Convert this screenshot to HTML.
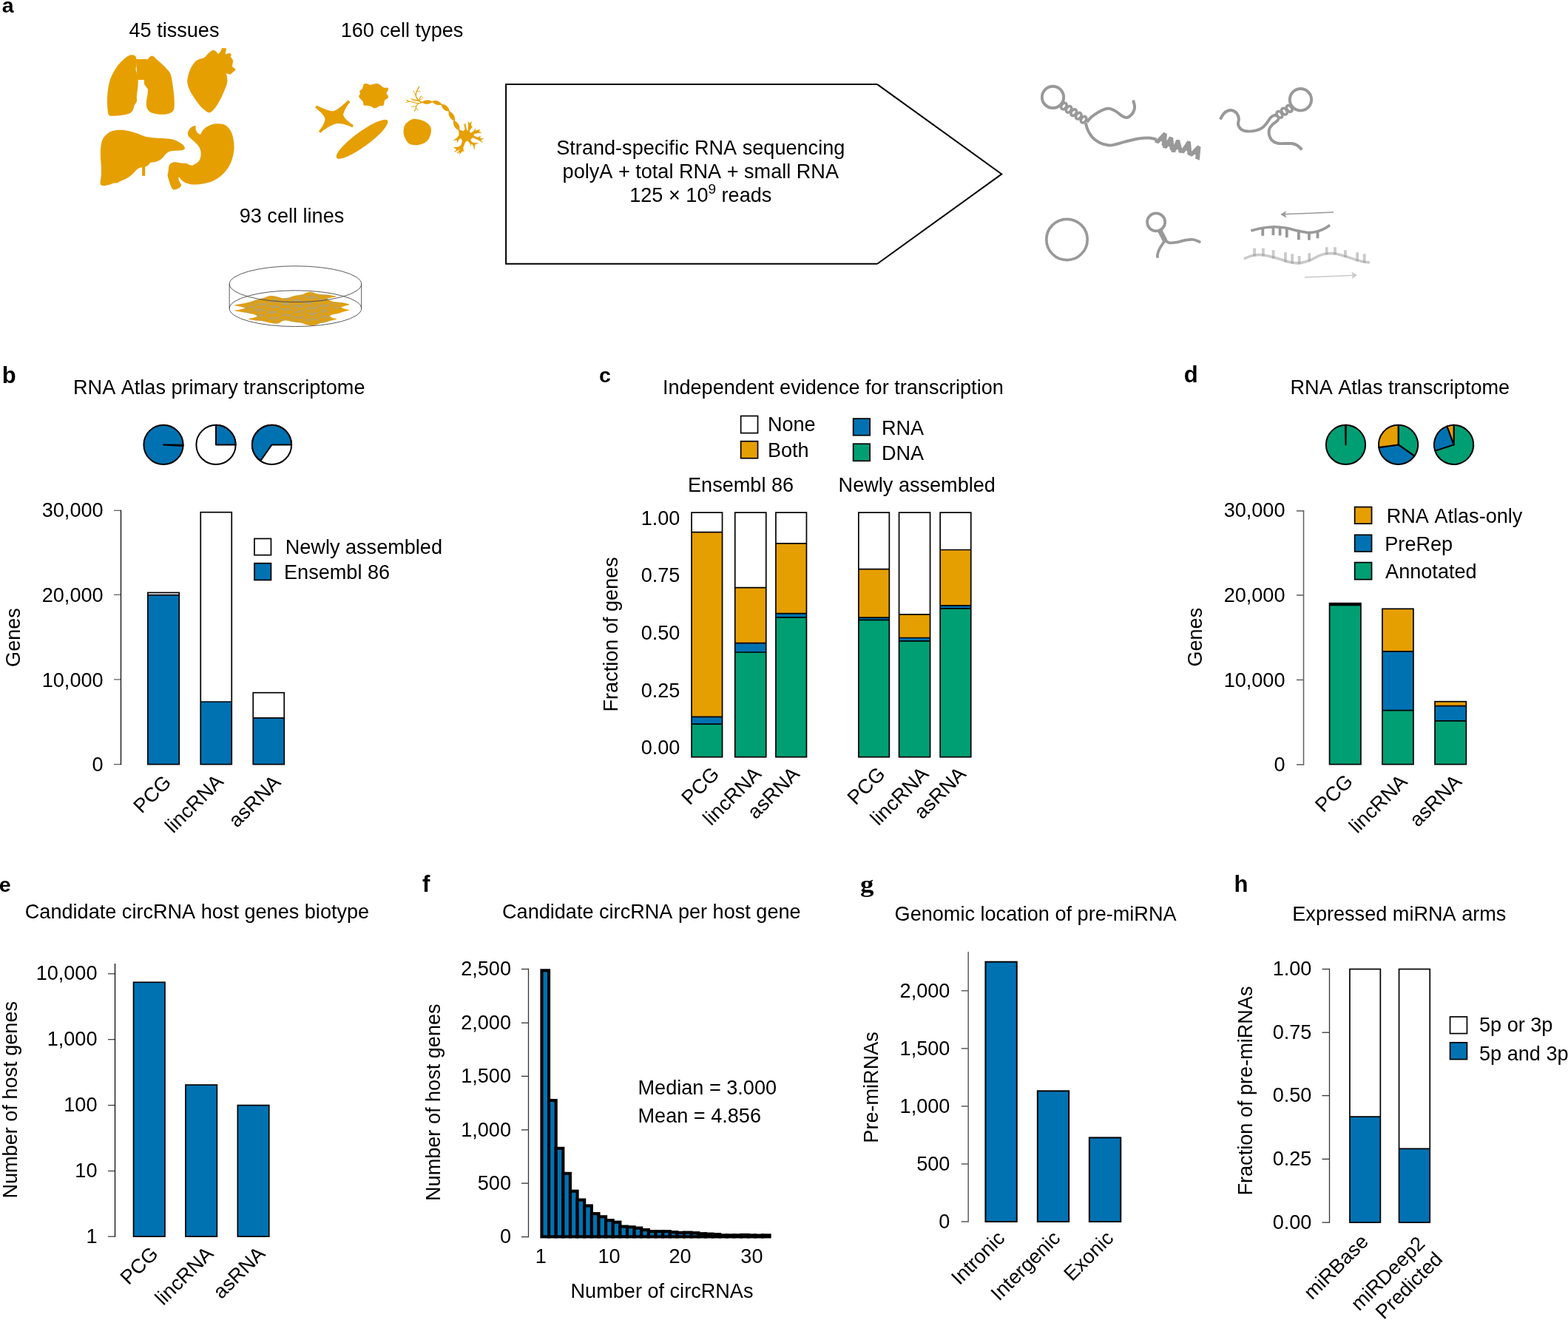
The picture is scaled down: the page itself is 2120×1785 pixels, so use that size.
<!DOCTYPE html>
<html lang="en">
<head>
<meta charset="utf-8">
<title>RNA Atlas overview figure</title>
<style>
html,body{margin:0;padding:0;background:#fff;}
body{width:2120px;height:1785px;overflow:hidden;}
svg{display:block;}
svg text{font-family:"Liberation Sans",sans-serif;font-size:27.1px;fill:#000;font-kerning:none;}
</style>
</head>
<body>
<svg width="2120" height="1785" viewBox="0 0 2120 1785">
<rect width="2120" height="1785" fill="#fff"/>
<g transform="translate(120,50) scale(0.124719)">
<path d="M470.0,195.0 C481.7,197.5 502.0,197.5 510.0,215.0 C518.0,232.5 518.0,277.5 518.0,300.0 C518.0,322.5 508.8,333.3 510.0,350.0 C511.2,366.7 520.8,380.0 525.0,400.0 C529.2,420.0 534.2,443.3 535.0,470.0 C535.8,496.7 532.5,531.7 530.0,560.0 C527.5,588.3 521.7,616.7 520.0,640.0 C518.3,663.3 524.2,683.3 520.0,700.0 C515.8,716.7 501.7,725.0 495.0,740.0 C488.3,755.0 489.2,775.0 480.0,790.0 C470.8,805.0 461.7,820.0 440.0,830.0 C418.3,840.0 379.2,845.7 350.0,850.0 C320.8,854.3 285.3,855.7 265.0,856.0 C244.7,856.3 237.2,857.2 228.0,852.0 C218.8,846.8 214.7,850.3 210.0,825.0 C205.3,799.7 200.0,744.2 200.0,700.0 C200.0,655.8 203.3,603.3 210.0,560.0 C216.7,516.7 225.0,478.3 240.0,440.0 C255.0,401.7 276.7,363.3 300.0,330.0 C323.3,296.7 356.7,261.7 380.0,240.0 C403.3,218.3 425.0,207.5 440.0,200.0 C455.0,192.5 458.3,192.5 470.0,195.0 Z" fill="#E69F00"/>
<path d="M512.0,240.0 L632.0,240.0 L628.0,300.0 L612.0,465.0 L528.0,465.0 Z" fill="#E69F00"/>
<path d="M688.0,205.0 C679.7,204.7 670.0,210.2 662.0,216.0 C654.0,221.8 647.0,230.2 640.0,240.0 C633.0,249.8 625.3,248.3 620.0,275.0 C614.7,301.7 611.3,362.5 608.0,400.0 C604.7,437.5 597.2,475.8 600.0,500.0 C602.8,524.2 618.3,534.2 625.0,545.0 C631.7,555.8 637.8,552.5 640.0,565.0 C642.2,577.5 640.5,597.5 638.0,620.0 C635.5,642.5 626.7,676.7 625.0,700.0 C623.3,723.3 622.2,741.7 628.0,760.0 C633.8,778.3 644.7,798.0 660.0,810.0 C675.3,822.0 696.7,827.0 720.0,832.0 C743.3,837.0 775.0,840.3 800.0,840.0 C825.0,839.7 850.8,836.7 870.0,830.0 C889.2,823.3 905.3,813.3 915.0,800.0 C924.7,786.7 926.3,776.7 928.0,750.0 C929.7,723.3 928.0,678.3 925.0,640.0 C922.0,601.7 915.8,558.3 910.0,520.0 C904.2,481.7 900.0,438.3 890.0,410.0 C880.0,381.7 866.7,370.0 850.0,350.0 C833.3,330.0 808.3,307.2 790.0,290.0 C771.7,272.8 753.0,259.0 740.0,247.0 C727.0,235.0 720.7,225.0 712.0,218.0 C703.3,211.0 696.3,205.3 688.0,205.0 Z" fill="#E69F00"/>
<path d="M1250.0,225.0 C1230.0,236.7 1193.3,237.5 1170.0,255.0 C1146.7,272.5 1125.8,300.8 1110.0,330.0 C1094.2,359.2 1081.7,401.7 1075.0,430.0 C1068.3,458.3 1066.7,475.0 1070.0,500.0 C1073.3,525.0 1081.7,551.7 1095.0,580.0 C1108.3,608.3 1130.8,641.7 1150.0,670.0 C1169.2,698.3 1190.8,728.3 1210.0,750.0 C1229.2,771.7 1250.0,788.3 1265.0,800.0 C1280.0,811.7 1289.2,818.3 1300.0,820.0 C1310.8,821.7 1316.7,820.8 1330.0,810.0 C1343.3,799.2 1363.3,778.3 1380.0,755.0 C1396.7,731.7 1414.2,700.8 1430.0,670.0 C1445.8,639.2 1463.3,598.3 1475.0,570.0 C1486.7,541.7 1495.8,521.7 1500.0,500.0 C1504.2,478.3 1502.0,457.5 1500.0,440.0 C1498.0,422.5 1496.3,418.3 1488.0,395.0 C1479.7,371.7 1464.7,335.0 1450.0,300.0 C1435.3,265.0 1413.3,210.0 1400.0,185.0 C1386.7,160.0 1380.0,156.7 1370.0,150.0 C1360.0,143.3 1353.3,139.2 1340.0,145.0 C1326.7,150.8 1305.0,171.7 1290.0,185.0 C1275.0,198.3 1270.0,213.3 1250.0,225.0 Z" fill="#E69F00"/>
<path d="M1400.0,185.0 L1425.0,165.0 L1445.0,120.0 L1492.0,122.0 L1480.0,187.0 L1530.0,175.0 L1548.0,195.0 L1535.0,210.0 L1565.0,255.0 L1555.0,320.0 L1595.0,352.0 L1535.0,407.0 L1488.0,395.0 L1420.0,330.0 Z" fill="#E69F00"/>
<path d="M340.0,1008.0 C368.3,1008.0 400.0,1011.8 430.0,1018.0 C460.0,1024.2 490.0,1035.0 520.0,1045.0 C550.0,1055.0 580.0,1070.2 610.0,1078.0 C640.0,1085.8 668.3,1088.7 700.0,1092.0 C731.7,1095.3 766.7,1095.3 800.0,1098.0 C833.3,1100.7 870.0,1101.0 900.0,1108.0 C930.0,1115.0 958.3,1128.0 980.0,1140.0 C1001.7,1152.0 1020.0,1168.3 1030.0,1180.0 C1040.0,1191.7 1043.3,1202.0 1040.0,1210.0 C1036.7,1218.0 1026.7,1224.3 1010.0,1228.0 C993.3,1231.7 961.7,1230.0 940.0,1232.0 C918.3,1234.0 896.7,1234.5 880.0,1240.0 C863.3,1245.5 853.3,1253.3 840.0,1265.0 C826.7,1276.7 815.0,1296.7 800.0,1310.0 C785.0,1323.3 768.3,1336.7 750.0,1345.0 C731.7,1353.3 703.3,1357.2 690.0,1360.0 C676.7,1362.8 676.7,1357.8 670.0,1362.0 C663.3,1366.2 660.0,1377.3 650.0,1385.0 C640.0,1392.7 626.7,1402.2 610.0,1408.0 C593.3,1413.8 566.7,1413.0 550.0,1420.0 C533.3,1427.0 525.0,1436.7 510.0,1450.0 C495.0,1463.3 478.3,1485.0 460.0,1500.0 C441.7,1515.0 418.3,1530.0 400.0,1540.0 C381.7,1550.0 365.0,1553.0 350.0,1560.0 C335.0,1567.0 323.3,1577.8 310.0,1582.0 C296.7,1586.2 288.3,1580.7 270.0,1585.0 C251.7,1589.3 220.0,1603.5 200.0,1608.0 C180.0,1612.5 162.5,1615.0 150.0,1612.0 C137.5,1609.0 127.5,1608.7 125.0,1590.0 C122.5,1571.3 133.3,1531.7 135.0,1500.0 C136.7,1468.3 136.2,1433.3 135.0,1400.0 C133.8,1366.7 128.8,1333.3 128.0,1300.0 C127.2,1266.7 126.3,1231.7 130.0,1200.0 C133.7,1168.3 138.3,1135.0 150.0,1110.0 C161.7,1085.0 181.7,1065.3 200.0,1050.0 C218.3,1034.7 236.7,1025.0 260.0,1018.0 C283.3,1011.0 311.7,1008.0 340.0,1008.0 Z" fill="#E69F00"/>
<path d="M578.0,1400.0 L611.0,1400.0 L611.0,1506.0 L578.0,1506.0 Z" fill="#E69F00"/>
<path d="M1155.0,962.0 C1146.7,957.8 1122.5,970.3 1110.0,980.0 C1097.5,989.7 1085.8,1006.7 1080.0,1020.0 C1074.2,1033.3 1071.7,1047.5 1075.0,1060.0 C1078.3,1072.5 1087.5,1081.7 1100.0,1095.0 C1112.5,1108.3 1134.2,1124.2 1150.0,1140.0 C1165.8,1155.8 1184.2,1171.7 1195.0,1190.0 C1205.8,1208.3 1212.5,1230.0 1215.0,1250.0 C1217.5,1270.0 1215.8,1291.7 1210.0,1310.0 C1204.2,1328.3 1191.7,1347.5 1180.0,1360.0 C1168.3,1372.5 1151.7,1379.7 1140.0,1385.0 C1128.3,1390.3 1125.0,1394.5 1110.0,1392.0 C1095.0,1389.5 1068.3,1374.0 1050.0,1370.0 C1031.7,1366.0 1018.3,1370.0 1000.0,1368.0 C981.7,1366.0 957.5,1358.0 940.0,1358.0 C922.5,1358.0 906.7,1361.0 895.0,1368.0 C883.3,1375.0 875.5,1384.7 870.0,1400.0 C864.5,1415.3 864.5,1443.3 862.0,1460.0 C859.5,1476.7 853.7,1483.3 855.0,1500.0 C856.3,1516.7 864.2,1540.8 870.0,1560.0 C875.8,1579.2 884.2,1600.8 890.0,1615.0 C895.8,1629.2 897.5,1638.3 905.0,1645.0 C912.5,1651.7 923.3,1655.8 935.0,1655.0 C946.7,1654.2 963.7,1647.5 975.0,1640.0 C986.3,1632.5 1000.5,1620.0 1003.0,1610.0 C1005.5,1600.0 994.7,1590.0 990.0,1580.0 C985.3,1570.0 977.0,1560.0 975.0,1550.0 C973.0,1540.0 972.2,1519.2 978.0,1520.0 C983.8,1520.8 996.3,1544.2 1010.0,1555.0 C1023.7,1565.8 1038.3,1577.5 1060.0,1585.0 C1081.7,1592.5 1108.3,1599.2 1140.0,1600.0 C1171.7,1600.8 1215.0,1596.7 1250.0,1590.0 C1285.0,1583.3 1318.3,1575.0 1350.0,1560.0 C1381.7,1545.0 1413.3,1523.3 1440.0,1500.0 C1466.7,1476.7 1490.8,1450.0 1510.0,1420.0 C1529.2,1390.0 1544.2,1353.3 1555.0,1320.0 C1565.8,1286.7 1572.5,1253.3 1575.0,1220.0 C1577.5,1186.7 1575.0,1151.7 1570.0,1120.0 C1565.0,1088.3 1556.7,1055.0 1545.0,1030.0 C1533.3,1005.0 1515.8,984.2 1500.0,970.0 C1484.2,955.8 1468.3,950.0 1450.0,945.0 C1431.7,940.0 1410.0,939.2 1390.0,940.0 C1370.0,940.8 1350.0,943.3 1330.0,950.0 C1310.0,956.7 1286.7,968.3 1270.0,980.0 C1253.3,991.7 1240.0,1007.5 1230.0,1020.0 C1220.0,1032.5 1218.3,1051.7 1210.0,1055.0 C1201.7,1058.3 1188.3,1048.3 1180.0,1040.0 C1171.7,1031.7 1164.2,1018.0 1160.0,1005.0 C1155.8,992.0 1163.3,966.2 1155.0,962.0 Z" fill="#E69F00"/>
</g>
<g transform="translate(410,100) scale(0.124105)">
<path d="M145,343 C230,385 300,410 330,405 C390,385 450,320 490,287 L512,305 C470,350 440,420 435,445 C450,490 510,535 547,558 L535,585 C480,550 420,540 370,540 C300,555 235,600 187,643 L168,625 C210,580 238,520 238,490 C225,440 175,400 130,368 Z" fill="#E69F00"/>
<path d="M660.0,110.0 C665.8,106.7 678.3,103.7 690.0,105.0 C701.7,106.3 711.7,118.0 730.0,118.0 C748.3,118.0 781.7,104.7 800.0,105.0 C818.3,105.3 826.7,112.5 840.0,120.0 C853.3,127.5 866.7,145.0 880.0,150.0 C893.3,155.0 912.5,145.8 920.0,150.0 C927.5,154.2 927.5,165.0 925.0,175.0 C922.5,185.0 905.0,199.2 905.0,210.0 C905.0,220.8 922.5,230.8 925.0,240.0 C927.5,249.2 925.8,257.5 920.0,265.0 C914.2,272.5 897.0,274.2 890.0,285.0 C883.0,295.8 881.3,320.0 878.0,330.0 C874.7,340.0 878.0,341.7 870.0,345.0 C862.0,348.3 845.0,345.0 830.0,350.0 C815.0,355.0 795.0,374.2 780.0,375.0 C765.0,375.8 753.3,360.0 740.0,355.0 C726.7,350.0 713.3,347.5 700.0,345.0 C686.7,342.5 668.3,347.5 660.0,340.0 C651.7,332.5 658.3,314.2 650.0,300.0 C641.7,285.8 617.0,265.8 610.0,255.0 C603.0,244.2 606.3,241.7 608.0,235.0 C609.7,228.3 618.8,223.3 620.0,215.0 C621.2,206.7 611.7,193.3 615.0,185.0 C618.3,176.7 633.3,175.0 640.0,165.0 C646.7,155.0 651.7,134.2 655.0,125.0 C658.3,115.8 654.2,113.3 660.0,110.0 Z" fill="#E69F00"/>
<ellipse cx="641" cy="711" rx="343" ry="80" transform="rotate(-36.2 641 711)" fill="#E69F00"/>
</g>
<g transform="translate(540,110) scale(0.062054)">
<path d="M350.0,820.0 C388.3,823.3 455.0,833.3 500.0,850.0 C545.0,866.7 590.0,895.0 620.0,920.0 C650.0,945.0 668.0,973.3 680.0,1000.0 C692.0,1026.7 693.3,1050.0 692.0,1080.0 C690.7,1110.0 684.0,1146.7 672.0,1180.0 C660.0,1213.3 643.7,1251.7 620.0,1280.0 C596.3,1308.3 566.7,1332.2 530.0,1350.0 C493.3,1367.8 441.7,1381.7 400.0,1387.0 C358.3,1392.3 315.0,1389.8 280.0,1382.0 C245.0,1374.2 215.0,1362.0 190.0,1340.0 C165.0,1318.0 146.2,1281.7 130.0,1250.0 C113.8,1218.3 99.2,1183.3 93.0,1150.0 C86.8,1116.7 88.5,1083.3 93.0,1050.0 C97.5,1016.7 102.2,980.0 120.0,950.0 C137.8,920.0 175.0,890.0 200.0,870.0 C225.0,850.0 245.0,838.3 270.0,830.0 C295.0,821.7 311.7,816.7 350.0,820.0 Z" fill="#E69F00"/>
<path d="M470.0,458.0 C492.5,457.0 564.2,453.7 605.0,452.0 C645.8,450.3 679.5,445.3 715.0,448.0 C750.5,450.7 784.2,458.5 818.0,468.0 C851.8,477.5 887.7,487.2 918.0,505.0 C948.3,522.8 972.5,550.8 1000.0,575.0 C1027.5,599.2 1059.7,620.0 1083.0,650.0 C1106.3,680.0 1121.8,720.8 1140.0,755.0 C1158.2,789.2 1174.8,820.8 1192.0,855.0 C1209.2,889.2 1225.0,925.0 1243.0,960.0 C1261.0,995.0 1280.5,1040.0 1300.0,1065.0 C1319.5,1090.0 1350.0,1102.5 1360.0,1110.0" fill="none" stroke="#E69F00" stroke-width="26" stroke-linecap="round" stroke-linejoin="round"/>
<path d="M-108,0 C-59.400000000000006,-57.5 59.400000000000006,-57.5 108,0 C59.400000000000006,57.5 -59.400000000000006,57.5 -108,0 Z" transform="translate(605,452) rotate(-3)" fill="#E69F00"/>
<path d="M-106,0 C-58.300000000000004,-55.0 58.300000000000004,-55.0 106,0 C58.300000000000004,55.0 -58.300000000000004,55.0 -106,0 Z" transform="translate(818,468) rotate(19)" fill="#E69F00"/>
<path d="M-112,0 C-61.60000000000001,-65.0 61.60000000000001,-65.0 112,0 C61.60000000000001,65.0 -61.60000000000001,65.0 -112,0 Z" transform="translate(1001,576) rotate(41)" fill="#E69F00"/>
<path d="M-118,0 C-64.9,-65.0 64.9,-65.0 118,0 C64.9,65.0 -64.9,65.0 -118,0 Z" transform="translate(1141,756) rotate(58)" fill="#E69F00"/>
<path d="M-122,0 C-67.10000000000001,-70.0 67.10000000000001,-70.0 122,0 C67.10000000000001,70.0 -67.10000000000001,70.0 -122,0 Z" transform="translate(1244,960) rotate(60)" fill="#E69F00"/>
<path d="M1290.0,1055.0 L1400.0,1085.0 L1432.0,1040.0 L1412.0,950.0 L1402.0,928.0 L1425.0,945.0 L1440.0,918.0 L1450.0,990.0 L1468.0,1062.0 L1496.0,1080.0 L1502.0,960.0 L1498.0,878.0 L1535.0,915.0 L1572.0,872.0 L1558.0,955.0 L1592.0,990.0 L1548.0,1045.0 L1520.0,1092.0 L1560.0,1128.0 L1610.0,1090.0 L1650.0,1040.0 L1662.0,1038.0 L1652.0,1078.0 L1700.0,1062.0 L1752.0,1048.0 L1735.0,1095.0 L1792.0,1120.0 L1700.0,1128.0 L1648.0,1142.0 L1612.0,1166.0 L1640.0,1195.0 L1700.0,1222.0 L1772.0,1194.0 L1745.0,1238.0 L1832.0,1246.0 L1770.0,1278.0 L1818.0,1336.0 L1740.0,1290.0 L1690.0,1265.0 L1600.0,1226.0 L1552.0,1262.0 L1560.0,1308.0 L1622.0,1343.0 L1722.0,1345.0 L1642.0,1376.0 L1640.0,1440.0 L1636.0,1496.0 L1615.0,1420.0 L1598.0,1380.0 L1560.0,1356.0 L1556.0,1412.0 L1535.0,1345.0 L1482.0,1290.0 L1432.0,1330.0 L1405.0,1400.0 L1388.0,1445.0 L1402.0,1532.0 L1372.0,1518.0 L1312.0,1592.0 L1322.0,1548.0 L1258.0,1562.0 L1332.0,1470.0 L1200.0,1542.0 L1245.0,1480.0 L1178.0,1440.0 L1290.0,1430.0 L1350.0,1380.0 L1372.0,1300.0 L1342.0,1236.0 L1292.0,1268.0 L1266.0,1336.0 L1256.0,1276.0 L1178.0,1286.0 L1262.0,1230.0 L1300.0,1170.0 L1296.0,1100.0 Z" fill="#E69F00" stroke="#E69F00" stroke-width="6" stroke-linejoin="round"/>
<path d="M520.0,455.0 C511.7,454.5 483.3,456.2 470.0,452.0 C456.7,447.8 452.5,441.2 440.0,430.0 C427.5,418.8 408.0,401.7 395.0,385.0 C382.0,368.3 368.2,346.7 362.0,330.0 C355.8,313.3 355.0,304.2 358.0,285.0 C361.0,265.8 368.0,242.8 380.0,215.0 C392.0,187.2 421.7,134.2 430.0,118.0" fill="none" stroke="#E69F00" stroke-width="21.6" stroke-linecap="round" stroke-linejoin="round"/>
<path d="M362.0,310.0 C357.5,302.5 343.7,282.0 335.0,265.0 C326.3,248.0 314.2,217.5 310.0,208.0" fill="none" stroke="#E69F00" stroke-width="14.850000000000001" stroke-linecap="round" stroke-linejoin="round"/>
<path d="M385.0,222.0 C391.7,220.8 412.8,212.8 425.0,215.0 C437.2,217.2 452.5,231.7 458.0,235.0" fill="none" stroke="#E69F00" stroke-width="13.5" stroke-linecap="round" stroke-linejoin="round"/>
<path d="M440.0,430.0 C440.0,422.5 438.0,398.3 440.0,385.0 C442.0,371.7 445.3,360.0 452.0,350.0 C458.7,340.0 475.3,329.2 480.0,325.0" fill="none" stroke="#E69F00" stroke-width="17.55" stroke-linecap="round" stroke-linejoin="round"/>
<path d="M455.0,405.0 C460.8,400.0 480.0,385.0 490.0,375.0 C500.0,365.0 510.8,350.0 515.0,345.0" fill="none" stroke="#E69F00" stroke-width="14.850000000000001" stroke-linecap="round" stroke-linejoin="round"/>
<path d="M420.0,410.0 C411.7,409.2 385.0,406.7 370.0,405.0 C355.0,403.3 343.3,401.7 330.0,400.0 C316.7,398.3 301.7,399.2 290.0,395.0 C278.3,390.8 265.0,378.3 260.0,375.0" fill="none" stroke="#E69F00" stroke-width="16.200000000000003" stroke-linecap="round" stroke-linejoin="round"/>
<path d="M330.0,402.0 C325.0,404.7 307.5,416.7 300.0,418.0 C292.5,419.3 287.5,411.3 285.0,410.0" fill="none" stroke="#E69F00" stroke-width="12.15" stroke-linecap="round" stroke-linejoin="round"/>
<path d="M480.0,462.0 C470.0,465.3 436.7,479.3 420.0,482.0 C403.3,484.7 400.0,482.5 380.0,478.0 C360.0,473.5 330.0,462.2 300.0,455.0 C270.0,447.8 223.3,443.3 200.0,435.0 C176.7,426.7 166.7,410.0 160.0,405.0" fill="none" stroke="#E69F00" stroke-width="18.900000000000002" stroke-linecap="round" stroke-linejoin="round"/>
<path d="M215.0,438.0 C208.3,440.8 187.5,451.3 175.0,455.0 C162.5,458.7 145.8,459.2 140.0,460.0" fill="none" stroke="#E69F00" stroke-width="13.5" stroke-linecap="round" stroke-linejoin="round"/>
<path d="M440.0,430.0 C436.7,431.7 430.0,441.7 420.0,440.0 C410.0,438.3 395.0,422.5 380.0,420.0 C365.0,417.5 338.3,424.2 330.0,425.0" fill="none" stroke="#E69F00" stroke-width="13.5" stroke-linecap="round" stroke-linejoin="round"/>
<path d="M420.0,480.0 C414.2,485.0 394.2,499.2 385.0,510.0 C375.8,520.8 369.2,532.5 365.0,545.0 C360.8,557.5 363.3,572.5 360.0,585.0 C356.7,597.5 350.3,609.5 345.0,620.0 C339.7,630.5 330.8,643.3 328.0,648.0" fill="none" stroke="#E69F00" stroke-width="18.900000000000002" stroke-linecap="round" stroke-linejoin="round"/>
<path d="M368.0,548.0 C358.3,547.5 327.7,543.7 310.0,545.0 C292.3,546.3 270.0,554.2 262.0,556.0" fill="none" stroke="#E69F00" stroke-width="14.850000000000001" stroke-linecap="round" stroke-linejoin="round"/>
<path d="M358.0,588.0 C362.5,590.8 375.5,599.3 385.0,605.0 C394.5,610.7 410.0,619.2 415.0,622.0" fill="none" stroke="#E69F00" stroke-width="13.5" stroke-linecap="round" stroke-linejoin="round"/>
</g>
<g transform="translate(310,385) scale(0.085911)">
<clipPath id="lay"><path d="M80.0,322.0 C82.7,316.0 166.7,306.9 200.0,300.0 C233.3,293.1 300.7,278.0 330.0,270.0 C359.3,262.0 394.7,247.3 420.0,240.0 C445.3,232.7 493.3,223.0 520.0,215.0 C546.7,207.0 598.7,185.3 620.0,180.0 C641.3,174.7 661.3,173.7 680.0,175.0 C698.7,176.3 740.0,185.1 760.0,190.0 C780.0,194.9 808.7,209.6 830.0,212.0 C851.3,214.4 897.3,212.3 920.0,208.0 C942.7,203.7 978.7,185.7 1000.0,180.0 C1021.3,174.3 1060.0,168.3 1080.0,165.0 C1100.0,161.7 1131.3,160.3 1150.0,155.0 C1168.7,149.7 1201.3,130.3 1220.0,125.0 C1238.7,119.7 1270.0,113.0 1290.0,115.0 C1310.0,117.0 1348.7,134.7 1370.0,140.0 C1391.3,145.3 1427.3,152.6 1450.0,155.0 C1472.7,157.4 1509.3,154.0 1540.0,158.0 C1570.7,162.0 1672.0,178.7 1680.0,185.0 C1688.0,191.3 1618.7,199.7 1600.0,205.0 C1581.3,210.3 1537.3,217.4 1540.0,225.0 C1542.7,232.6 1596.0,255.3 1620.0,262.0 C1644.0,268.7 1696.0,271.9 1720.0,275.0 C1744.0,278.1 1777.3,280.1 1800.0,285.0 C1822.7,289.9 1890.0,304.7 1890.0,312.0 C1890.0,319.3 1817.3,333.9 1800.0,340.0 C1782.7,346.1 1756.0,352.0 1760.0,358.0 C1764.0,364.0 1812.7,379.4 1830.0,385.0 C1847.3,390.6 1894.0,394.7 1890.0,400.0 C1886.0,405.3 1822.7,418.3 1800.0,425.0 C1777.3,431.7 1744.0,444.0 1720.0,450.0 C1696.0,456.0 1638.7,464.0 1620.0,470.0 C1601.3,476.0 1580.0,488.3 1580.0,495.0 C1580.0,501.7 1605.3,514.0 1620.0,520.0 C1634.7,526.0 1692.7,534.0 1690.0,540.0 C1687.3,546.0 1622.7,558.3 1600.0,565.0 C1577.3,571.7 1544.0,584.0 1520.0,590.0 C1496.0,596.0 1442.7,604.0 1420.0,610.0 C1397.3,616.0 1368.7,630.7 1350.0,635.0 C1331.3,639.3 1300.0,643.3 1280.0,642.0 C1260.0,640.7 1220.0,630.6 1200.0,625.0 C1180.0,619.4 1151.3,604.7 1130.0,600.0 C1108.7,595.3 1062.7,593.3 1040.0,590.0 C1017.3,586.7 980.0,578.7 960.0,575.0 C940.0,571.3 907.3,562.0 890.0,562.0 C872.7,562.0 844.7,569.3 830.0,575.0 C815.3,580.7 794.7,599.7 780.0,605.0 C765.3,610.3 738.7,615.7 720.0,615.0 C701.3,614.3 661.3,604.9 640.0,600.0 C618.7,595.1 586.7,582.7 560.0,578.0 C533.3,573.3 474.7,570.1 440.0,565.0 C405.3,559.9 308.0,546.0 300.0,540.0 C292.0,534.0 361.3,525.6 380.0,520.0 C398.7,514.4 437.3,504.7 440.0,498.0 C442.7,491.3 416.0,476.4 400.0,470.0 C384.0,463.6 346.7,455.3 320.0,450.0 C293.3,444.7 231.3,435.3 200.0,430.0 C168.7,424.7 89.0,415.3 85.0,410.0 C81.0,404.7 148.0,395.6 170.0,390.0 C192.0,384.4 248.7,374.0 250.0,368.0 C251.3,362.0 202.7,351.1 180.0,345.0 C157.3,338.9 77.3,328.0 80.0,322.0 Z"/></clipPath>
<path d="M80.0,322.0 C82.7,316.0 166.7,306.9 200.0,300.0 C233.3,293.1 300.7,278.0 330.0,270.0 C359.3,262.0 394.7,247.3 420.0,240.0 C445.3,232.7 493.3,223.0 520.0,215.0 C546.7,207.0 598.7,185.3 620.0,180.0 C641.3,174.7 661.3,173.7 680.0,175.0 C698.7,176.3 740.0,185.1 760.0,190.0 C780.0,194.9 808.7,209.6 830.0,212.0 C851.3,214.4 897.3,212.3 920.0,208.0 C942.7,203.7 978.7,185.7 1000.0,180.0 C1021.3,174.3 1060.0,168.3 1080.0,165.0 C1100.0,161.7 1131.3,160.3 1150.0,155.0 C1168.7,149.7 1201.3,130.3 1220.0,125.0 C1238.7,119.7 1270.0,113.0 1290.0,115.0 C1310.0,117.0 1348.7,134.7 1370.0,140.0 C1391.3,145.3 1427.3,152.6 1450.0,155.0 C1472.7,157.4 1509.3,154.0 1540.0,158.0 C1570.7,162.0 1672.0,178.7 1680.0,185.0 C1688.0,191.3 1618.7,199.7 1600.0,205.0 C1581.3,210.3 1537.3,217.4 1540.0,225.0 C1542.7,232.6 1596.0,255.3 1620.0,262.0 C1644.0,268.7 1696.0,271.9 1720.0,275.0 C1744.0,278.1 1777.3,280.1 1800.0,285.0 C1822.7,289.9 1890.0,304.7 1890.0,312.0 C1890.0,319.3 1817.3,333.9 1800.0,340.0 C1782.7,346.1 1756.0,352.0 1760.0,358.0 C1764.0,364.0 1812.7,379.4 1830.0,385.0 C1847.3,390.6 1894.0,394.7 1890.0,400.0 C1886.0,405.3 1822.7,418.3 1800.0,425.0 C1777.3,431.7 1744.0,444.0 1720.0,450.0 C1696.0,456.0 1638.7,464.0 1620.0,470.0 C1601.3,476.0 1580.0,488.3 1580.0,495.0 C1580.0,501.7 1605.3,514.0 1620.0,520.0 C1634.7,526.0 1692.7,534.0 1690.0,540.0 C1687.3,546.0 1622.7,558.3 1600.0,565.0 C1577.3,571.7 1544.0,584.0 1520.0,590.0 C1496.0,596.0 1442.7,604.0 1420.0,610.0 C1397.3,616.0 1368.7,630.7 1350.0,635.0 C1331.3,639.3 1300.0,643.3 1280.0,642.0 C1260.0,640.7 1220.0,630.6 1200.0,625.0 C1180.0,619.4 1151.3,604.7 1130.0,600.0 C1108.7,595.3 1062.7,593.3 1040.0,590.0 C1017.3,586.7 980.0,578.7 960.0,575.0 C940.0,571.3 907.3,562.0 890.0,562.0 C872.7,562.0 844.7,569.3 830.0,575.0 C815.3,580.7 794.7,599.7 780.0,605.0 C765.3,610.3 738.7,615.7 720.0,615.0 C701.3,614.3 661.3,604.9 640.0,600.0 C618.7,595.1 586.7,582.7 560.0,578.0 C533.3,573.3 474.7,570.1 440.0,565.0 C405.3,559.9 308.0,546.0 300.0,540.0 C292.0,534.0 361.3,525.6 380.0,520.0 C398.7,514.4 437.3,504.7 440.0,498.0 C442.7,491.3 416.0,476.4 400.0,470.0 C384.0,463.6 346.7,455.3 320.0,450.0 C293.3,444.7 231.3,435.3 200.0,430.0 C168.7,424.7 89.0,415.3 85.0,410.0 C81.0,404.7 148.0,395.6 170.0,390.0 C192.0,384.4 248.7,374.0 250.0,368.0 C251.3,362.0 202.7,351.1 180.0,345.0 C157.3,338.9 77.3,328.0 80.0,322.0 Z" fill="#E69F00"/>
<g clip-path="url(#lay)"><path d="M500,215 C618.25,204.6 629.0,163 715,163 C801.0,163 811.75,204.6 930,215 C811.75,225.4 801.0,267 715,267 C629.0,267 618.25,225.4 500,215 Z" fill="none" stroke="#A8A496" stroke-width="6.5"/>
<path d="M665,248 C783.25,237.6 794.0,196 880,196 C966.0,196 976.75,237.6 1095,248 C976.75,258.4 966.0,300 880,300 C794.0,300 783.25,258.4 665,248 Z" fill="none" stroke="#A8A496" stroke-width="6.5"/>
<path d="M900,215 C1018.25,204.6 1029.0,163 1115,163 C1201.0,163 1211.75,204.6 1330,215 C1211.75,225.4 1201.0,267 1115,267 C1029.0,267 1018.25,225.4 900,215 Z" fill="none" stroke="#A8A496" stroke-width="6.5"/>
<path d="M1095,152 C1213.25,141.6 1224.0,100 1310,100 C1396.0,100 1406.75,141.6 1525,152 C1406.75,162.4 1396.0,204 1310,204 C1224.0,204 1213.25,162.4 1095,152 Z" fill="none" stroke="#A8A496" stroke-width="6.5"/>
<path d="M1030,235 C1148.25,224.6 1159.0,183 1245,183 C1331.0,183 1341.75,224.6 1460,235 C1341.75,245.4 1331.0,287 1245,287 C1159.0,287 1148.25,245.4 1030,235 Z" fill="none" stroke="#A8A496" stroke-width="6.5"/>
<path d="M1305,190 C1423.25,179.6 1434.0,138 1520,138 C1606.0,138 1616.75,179.6 1735,190 C1616.75,200.4 1606.0,242 1520,242 C1434.0,242 1423.25,200.4 1305,190 Z" fill="none" stroke="#A8A496" stroke-width="6.5"/>
<path d="M235,268 C353.25,257.6 364.0,216 450,216 C536.0,216 546.75,257.6 665,268 C546.75,278.4 536.0,320 450,320 C364.0,320 353.25,278.4 235,268 Z" fill="none" stroke="#A8A496" stroke-width="6.5"/>
<path d="M115,312 C233.25,301.6 244.0,260 330,260 C416.0,260 426.75,301.6 545,312 C426.75,322.4 416.0,364 330,364 C244.0,364 233.25,322.4 115,312 Z" fill="none" stroke="#A8A496" stroke-width="6.5"/>
<path d="M515,305 C633.25,294.6 644.0,253 730,253 C816.0,253 826.75,294.6 945,305 C826.75,315.4 816.0,357 730,357 C644.0,357 633.25,315.4 515,305 Z" fill="none" stroke="#A8A496" stroke-width="6.5"/>
<path d="M825,300 C943.25,289.6 954.0,248 1040,248 C1126.0,248 1136.75,289.6 1255,300 C1136.75,310.4 1126.0,352 1040,352 C954.0,352 943.25,310.4 825,300 Z" fill="none" stroke="#A8A496" stroke-width="6.5"/>
<path d="M1055,330 C1173.25,319.6 1184.0,278 1270,278 C1356.0,278 1366.75,319.6 1485,330 C1366.75,340.4 1356.0,382 1270,382 C1184.0,382 1173.25,340.4 1055,330 Z" fill="none" stroke="#A8A496" stroke-width="6.5"/>
<path d="M1225,295 C1343.25,284.6 1354.0,243 1440,243 C1526.0,243 1536.75,284.6 1655,295 C1536.75,305.4 1526.0,347 1440,347 C1354.0,347 1343.25,305.4 1225,295 Z" fill="none" stroke="#A8A496" stroke-width="6.5"/>
<path d="M1490,325 C1608.25,314.6 1619.0,273 1705,273 C1791.0,273 1801.75,314.6 1920,325 C1801.75,335.4 1791.0,377 1705,377 C1619.0,377 1608.25,335.4 1490,325 Z" fill="none" stroke="#A8A496" stroke-width="6.5"/>
<path d="M325,352 C443.25,341.6 454.0,300 540,300 C626.0,300 636.75,341.6 755,352 C636.75,362.4 626.0,404 540,404 C454.0,404 443.25,362.4 325,352 Z" fill="none" stroke="#A8A496" stroke-width="6.5"/>
<path d="M440,385 C558.25,374.6 569.0,333 655,333 C741.0,333 751.75,374.6 870,385 C751.75,395.4 741.0,437 655,437 C569.0,437 558.25,395.4 440,385 Z" fill="none" stroke="#A8A496" stroke-width="6.5"/>
<path d="M715,350 C833.25,339.6 844.0,298 930,298 C1016.0,298 1026.75,339.6 1145,350 C1026.75,360.4 1016.0,402 930,402 C844.0,402 833.25,360.4 715,350 Z" fill="none" stroke="#A8A496" stroke-width="6.5"/>
<path d="M880,380 C998.25,369.6 1009.0,328 1095,328 C1181.0,328 1191.75,369.6 1310,380 C1191.75,390.4 1181.0,432 1095,432 C1009.0,432 998.25,390.4 880,380 Z" fill="none" stroke="#A8A496" stroke-width="6.5"/>
<path d="M1305,370 C1423.25,359.6 1434.0,318 1520,318 C1606.0,318 1616.75,359.6 1735,370 C1616.75,380.4 1606.0,422 1520,422 C1434.0,422 1423.25,380.4 1305,370 Z" fill="none" stroke="#A8A496" stroke-width="6.5"/>
<path d="M43,405 C161.25,394.6 172.0,353 258,353 C344.0,353 354.75,394.6 473,405 C354.75,415.4 344.0,457 258,457 C172.0,457 161.25,415.4 43,405 Z" fill="none" stroke="#A8A496" stroke-width="6.5"/>
<path d="M1105,405 C1223.25,394.6 1234.0,353 1320,353 C1406.0,353 1416.75,394.6 1535,405 C1416.75,415.4 1406.0,457 1320,457 C1234.0,457 1223.25,415.4 1105,405 Z" fill="none" stroke="#A8A496" stroke-width="6.5"/>
<path d="M250,440 C368.25,429.6 379.0,388 465,388 C551.0,388 561.75,429.6 680,440 C561.75,450.4 551.0,492 465,492 C379.0,492 368.25,450.4 250,440 Z" fill="none" stroke="#A8A496" stroke-width="6.5"/>
<path d="M660,428 C778.25,417.6 789.0,376 875,376 C961.0,376 971.75,417.6 1090,428 C971.75,438.4 961.0,480 875,480 C789.0,480 778.25,438.4 660,428 Z" fill="none" stroke="#A8A496" stroke-width="6.5"/>
<path d="M475,480 C593.25,469.6 604.0,428 690,428 C776.0,428 786.75,469.6 905,480 C786.75,490.4 776.0,532 690,532 C604.0,532 593.25,490.4 475,480 Z" fill="none" stroke="#A8A496" stroke-width="6.5"/>
<path d="M915,478 C1033.25,467.6 1044.0,426 1130,426 C1216.0,426 1226.75,467.6 1345,478 C1226.75,488.4 1216.0,530 1130,530 C1044.0,530 1033.25,488.4 915,478 Z" fill="none" stroke="#A8A496" stroke-width="6.5"/>
<path d="M1263,465 C1381.25,454.6 1392.0,413 1478,413 C1564.0,413 1574.75,454.6 1693,465 C1574.75,475.4 1564.0,517 1478,517 C1392.0,517 1381.25,475.4 1263,465 Z" fill="none" stroke="#A8A496" stroke-width="6.5"/>
<path d="M1105,500 C1223.25,489.6 1234.0,448 1320,448 C1406.0,448 1416.75,489.6 1535,500 C1416.75,510.4 1406.0,552 1320,552 C1234.0,552 1223.25,510.4 1105,500 Z" fill="none" stroke="#A8A496" stroke-width="6.5"/>
<path d="M248,532 C366.25,521.6 377.0,480 463,480 C549.0,480 559.75,521.6 678,532 C559.75,542.4 549.0,584 463,584 C377.0,584 366.25,542.4 248,532 Z" fill="none" stroke="#A8A496" stroke-width="6.5"/>
<path d="M715,525 C833.25,514.6 844.0,473 930,473 C1016.0,473 1026.75,514.6 1145,525 C1026.75,535.4 1016.0,577 930,577 C844.0,577 833.25,535.4 715,525 Z" fill="none" stroke="#A8A496" stroke-width="6.5"/>
<path d="M827,555 C945.25,544.6 956.0,503 1042,503 C1128.0,503 1138.75,544.6 1257,555 C1138.75,565.4 1128.0,607 1042,607 C956.0,607 945.25,565.4 827,555 Z" fill="none" stroke="#A8A496" stroke-width="6.5"/>
<path d="M1333,545 C1451.25,534.6 1462.0,493 1548,493 C1634.0,493 1644.75,534.6 1763,545 C1644.75,555.4 1634.0,597 1548,597 C1462.0,597 1451.25,555.4 1333,545 Z" fill="none" stroke="#A8A496" stroke-width="6.5"/>
<path d="M505,578 C623.25,567.6 634.0,526 720,526 C806.0,526 816.75,567.6 935,578 C816.75,588.4 806.0,630 720,630 C634.0,630 623.25,588.4 505,578 Z" fill="none" stroke="#A8A496" stroke-width="6.5"/>
<path d="M1063,595 C1181.25,584.6 1192.0,543 1278,543 C1364.0,543 1374.75,584.6 1493,595 C1374.75,605.4 1364.0,647 1278,647 C1192.0,647 1181.25,605.4 1063,595 Z" fill="none" stroke="#A8A496" stroke-width="6.5"/>
<rect x="679" y="190" width="72" height="50" rx="12" fill="#E69F00" stroke="#A8A496" stroke-width="9"/>
<rect x="844" y="223" width="72" height="50" rx="12" fill="#E69F00" stroke="#A8A496" stroke-width="9"/>
<rect x="1079" y="190" width="72" height="50" rx="12" fill="#E69F00" stroke="#A8A496" stroke-width="9"/>
<rect x="1274" y="127" width="72" height="50" rx="12" fill="#E69F00" stroke="#A8A496" stroke-width="9"/>
<rect x="1209" y="210" width="72" height="50" rx="12" fill="#E69F00" stroke="#A8A496" stroke-width="9"/>
<rect x="1484" y="165" width="72" height="50" rx="12" fill="#E69F00" stroke="#A8A496" stroke-width="9"/>
<rect x="414" y="243" width="72" height="50" rx="12" fill="#E69F00" stroke="#A8A496" stroke-width="9"/>
<rect x="294" y="287" width="72" height="50" rx="12" fill="#E69F00" stroke="#A8A496" stroke-width="9"/>
<rect x="694" y="280" width="72" height="50" rx="12" fill="#E69F00" stroke="#A8A496" stroke-width="9"/>
<rect x="1004" y="275" width="72" height="50" rx="12" fill="#E69F00" stroke="#A8A496" stroke-width="9"/>
<rect x="1234" y="305" width="72" height="50" rx="12" fill="#E69F00" stroke="#A8A496" stroke-width="9"/>
<rect x="1404" y="270" width="72" height="50" rx="12" fill="#E69F00" stroke="#A8A496" stroke-width="9"/>
<rect x="1669" y="300" width="72" height="50" rx="12" fill="#E69F00" stroke="#A8A496" stroke-width="9"/>
<rect x="504" y="327" width="72" height="50" rx="12" fill="#E69F00" stroke="#A8A496" stroke-width="9"/>
<rect x="619" y="360" width="72" height="50" rx="12" fill="#E69F00" stroke="#A8A496" stroke-width="9"/>
<rect x="894" y="325" width="72" height="50" rx="12" fill="#E69F00" stroke="#A8A496" stroke-width="9"/>
<rect x="1059" y="355" width="72" height="50" rx="12" fill="#E69F00" stroke="#A8A496" stroke-width="9"/>
<rect x="1484" y="345" width="72" height="50" rx="12" fill="#E69F00" stroke="#A8A496" stroke-width="9"/>
<rect x="222" y="380" width="72" height="50" rx="12" fill="#E69F00" stroke="#A8A496" stroke-width="9"/>
<rect x="1284" y="380" width="72" height="50" rx="12" fill="#E69F00" stroke="#A8A496" stroke-width="9"/>
<rect x="429" y="415" width="72" height="50" rx="12" fill="#E69F00" stroke="#A8A496" stroke-width="9"/>
<rect x="839" y="403" width="72" height="50" rx="12" fill="#E69F00" stroke="#A8A496" stroke-width="9"/>
<rect x="654" y="455" width="72" height="50" rx="12" fill="#E69F00" stroke="#A8A496" stroke-width="9"/>
<rect x="1094" y="453" width="72" height="50" rx="12" fill="#E69F00" stroke="#A8A496" stroke-width="9"/>
<rect x="1442" y="440" width="72" height="50" rx="12" fill="#E69F00" stroke="#A8A496" stroke-width="9"/>
<rect x="1284" y="475" width="72" height="50" rx="12" fill="#E69F00" stroke="#A8A496" stroke-width="9"/>
<rect x="427" y="507" width="72" height="50" rx="12" fill="#E69F00" stroke="#A8A496" stroke-width="9"/>
<rect x="894" y="500" width="72" height="50" rx="12" fill="#E69F00" stroke="#A8A496" stroke-width="9"/>
<rect x="1006" y="530" width="72" height="50" rx="12" fill="#E69F00" stroke="#A8A496" stroke-width="9"/>
<rect x="1512" y="520" width="72" height="50" rx="12" fill="#E69F00" stroke="#A8A496" stroke-width="9"/>
<rect x="684" y="553" width="72" height="50" rx="12" fill="#E69F00" stroke="#A8A496" stroke-width="9"/>
<rect x="1242" y="570" width="72" height="50" rx="12" fill="#E69F00" stroke="#A8A496" stroke-width="9"/></g>
</g>
<g transform="translate(290,340) scale(0.105012)">
<ellipse cx="1042" cy="735" rx="850" ry="232" fill="none" stroke="#3c3c3c" stroke-width="8"/>
<ellipse cx="1042" cy="420" rx="850" ry="232" fill="none" stroke="#3c3c3c" stroke-width="8"/>
<path d="M192,420 V735 M1892,420 V735" fill="none" stroke="#3c3c3c" stroke-width="8"/>
</g>
<g transform="translate(1390,100) scale(0.124105)">
<circle cx="270" cy="253" r="118" fill="none" stroke="#999999" stroke-width="32"/>
<ellipse cx="390" cy="350" rx="27" ry="37" transform="rotate(35 390 350)" fill="none" stroke="#999999" stroke-width="30"/>
<ellipse cx="443" cy="385" rx="27" ry="37" transform="rotate(35 443 385)" fill="none" stroke="#999999" stroke-width="30"/>
<ellipse cx="497" cy="420" rx="27" ry="37" transform="rotate(35 497 420)" fill="none" stroke="#999999" stroke-width="30"/>
<ellipse cx="550" cy="457" rx="27" ry="37" transform="rotate(35 550 457)" fill="none" stroke="#999999" stroke-width="30"/>
<ellipse cx="605" cy="497" rx="27" ry="37" transform="rotate(35 605 497)" fill="none" stroke="#999999" stroke-width="30"/>
<path d="M640.0,525.0 C648.3,515.8 670.0,487.5 690.0,470.0 C710.0,452.5 736.7,434.2 760.0,420.0 C783.3,405.8 808.3,392.0 830.0,385.0 C851.7,378.0 868.3,373.8 890.0,378.0 C911.7,382.2 938.3,397.2 960.0,410.0 C981.7,422.8 1000.8,444.2 1020.0,455.0 C1039.2,465.8 1057.5,476.7 1075.0,475.0 C1092.5,473.3 1111.7,458.3 1125.0,445.0 C1138.3,431.7 1149.2,411.7 1155.0,395.0 C1160.8,378.3 1161.7,363.0 1160.0,345.0 C1158.3,327.0 1147.5,296.7 1145.0,287.0" fill="none" stroke="#999999" stroke-width="32" stroke-linecap="butt" stroke-linejoin="round"/>
<path d="M628.0,535.0 C631.7,547.5 638.0,584.2 650.0,610.0 C662.0,635.8 678.3,666.7 700.0,690.0 C721.7,713.3 750.0,735.3 780.0,750.0 C810.0,764.7 850.0,775.5 880.0,778.0 C910.0,780.5 931.7,771.3 960.0,765.0 C988.3,758.7 1010.0,750.0 1050.0,740.0 C1090.0,730.0 1155.0,712.2 1200.0,705.0 C1245.0,697.8 1286.7,695.3 1320.0,697.0 C1353.3,698.7 1386.7,712.0 1400.0,715.0" fill="none" stroke="#999999" stroke-width="32" stroke-linecap="butt" stroke-linejoin="round"/>
</g>
<g transform="translate(1540,160) scale(0.047733)">
<path d="M450.0,640.0 L520.0,580.0 L700.0,395.0 L795.0,440.0 L780.0,640.0 L865.0,515.0 L965.0,545.0 L990.0,750.0 L1055.0,610.0 L1150.0,610.0 L1220.0,860.0 L1370.0,635.0 L1465.0,660.0 L1490.0,935.0 L1655.0,765.0 L1750.0,805.0 L1715.0,1190.0 L1595.0,1140.0 L1605.0,1030.0 L1575.0,1020.0 L1495.0,1085.0 L1395.0,1040.0 L1370.0,1010.0 L1360.0,915.0 L1330.0,915.0 L1270.0,990.0 L1125.0,975.0 L1105.0,885.0 L1070.0,880.0 L1020.0,970.0 L900.0,955.0 L920.0,915.0 L880.0,900.0 L860.0,800.0 L830.0,795.0 L770.0,860.0 L660.0,825.0 L680.0,790.0 L640.0,760.0 L650.0,660.0 L620.0,650.0 L545.0,720.0 L440.0,675.0 Z" fill="#999999"/>
</g>
<g transform="translate(1630,100) scale(0.124105)">
<circle cx="1035" cy="280" r="118" fill="none" stroke="#999999" stroke-width="32"/>
<ellipse cx="912" cy="377" rx="27" ry="38" transform="rotate(-35 912 377)" fill="none" stroke="#999999" stroke-width="30"/>
<ellipse cx="858" cy="408" rx="27" ry="38" transform="rotate(-35 858 408)" fill="none" stroke="#999999" stroke-width="30"/>
<ellipse cx="805" cy="442" rx="27" ry="38" transform="rotate(-35 805 442)" fill="none" stroke="#999999" stroke-width="30"/>
<path d="M158.0,495.0 C166.7,482.5 189.7,436.7 210.0,420.0 C230.3,403.3 258.3,393.3 280.0,395.0 C301.7,396.7 326.3,414.2 340.0,430.0 C353.7,445.8 359.5,470.0 362.0,490.0 C364.5,510.0 350.3,530.8 355.0,550.0 C359.7,569.2 372.5,592.5 390.0,605.0 C407.5,617.5 433.3,623.3 460.0,625.0 C486.7,626.7 523.3,621.7 550.0,615.0 C576.7,608.3 600.0,599.2 620.0,585.0 C640.0,570.8 655.0,548.3 670.0,530.0 C685.0,511.7 696.7,488.3 710.0,475.0 C723.3,461.7 738.3,452.5 750.0,450.0 C761.7,447.5 775.0,458.3 780.0,460.0" fill="none" stroke="#999999" stroke-width="32" stroke-linecap="butt" stroke-linejoin="round"/>
<path d="M800.0,480.0 C795.8,485.8 786.7,503.3 775.0,515.0 C763.3,526.7 743.3,535.8 730.0,550.0 C716.7,564.2 701.3,581.7 695.0,600.0 C688.7,618.3 687.8,640.0 692.0,660.0 C696.2,680.0 705.3,704.2 720.0,720.0 C734.7,735.8 756.7,748.7 780.0,755.0 C803.3,761.3 833.3,757.5 860.0,758.0 C886.7,758.5 916.7,754.3 940.0,758.0 C963.3,761.7 981.7,768.8 1000.0,780.0 C1018.3,791.2 1041.7,817.5 1050.0,825.0" fill="none" stroke="#999999" stroke-width="32" stroke-linecap="butt" stroke-linejoin="round"/>
</g>
<g transform="translate(1390,270) scale(0.124105)">
<circle cx="423" cy="435" r="223" fill="none" stroke="#999999" stroke-width="30"/>
<circle cx="1395" cy="245" r="97" fill="none" stroke="#999999" stroke-width="30"/>
<path d="M1440,345 L1490,440" fill="none" stroke="#999999" stroke-width="54" stroke-linecap="round" stroke-linejoin="round"/>
<path d="M1490.0,440.0 C1498.3,445.0 1518.3,465.8 1540.0,470.0 C1561.7,474.2 1590.0,470.0 1620.0,465.0 C1650.0,460.0 1690.0,445.0 1720.0,440.0 C1750.0,435.0 1773.3,430.8 1800.0,435.0 C1826.7,439.2 1866.7,460.0 1880.0,465.0" fill="none" stroke="#999999" stroke-width="30" stroke-linecap="butt" stroke-linejoin="round"/>
<path d="M1480.0,460.0 C1471.7,473.3 1441.7,516.7 1430.0,540.0 C1418.3,563.3 1413.3,584.2 1410.0,600.0 C1406.7,615.8 1410.0,629.2 1410.0,635.0" fill="none" stroke="#999999" stroke-width="30" stroke-linecap="butt" stroke-linejoin="round"/>
</g>
<g transform="translate(1660,270) scale(0.105012)">
<path d="M1362,162 L700,189" fill="none" stroke="#999999" stroke-width="14" stroke-linecap="butt" stroke-linejoin="round"/>
<path d="M678,190 L755,142 L735,188 L758,236 Z" fill="#999999"/>
<path d="M298.0,400.0 C323.3,394.2 399.7,373.3 450.0,365.0 C500.3,356.7 550.0,350.0 600.0,350.0 C650.0,350.0 700.0,356.7 750.0,365.0 C800.0,373.3 851.7,390.0 900.0,400.0 C948.3,410.0 998.3,423.3 1040.0,425.0 C1081.7,426.7 1115.0,419.2 1150.0,410.0 C1185.0,400.8 1222.5,383.7 1250.0,370.0 C1277.5,356.3 1304.2,335.0 1315.0,328.0" fill="none" stroke="#999999" stroke-width="34" stroke-linecap="butt" stroke-linejoin="round"/>
<path d="M450,365 V465" fill="none" stroke="#999999" stroke-width="36" stroke-linecap="butt" stroke-linejoin="round"/>
<path d="M585,352 V458" fill="none" stroke="#999999" stroke-width="36" stroke-linecap="butt" stroke-linejoin="round"/>
<path d="M672,355 V462" fill="none" stroke="#999999" stroke-width="36" stroke-linecap="butt" stroke-linejoin="round"/>
<path d="M760,368 V487" fill="none" stroke="#999999" stroke-width="36" stroke-linecap="butt" stroke-linejoin="round"/>
<path d="M913,405 V517" fill="none" stroke="#999999" stroke-width="36" stroke-linecap="butt" stroke-linejoin="round"/>
<path d="M1047,425 V520" fill="none" stroke="#999999" stroke-width="36" stroke-linecap="butt" stroke-linejoin="round"/>
<path d="M1157,408 V498" fill="none" stroke="#999999" stroke-width="36" stroke-linecap="butt" stroke-linejoin="round"/>
<path d="M210.0,762.0 C225.0,755.8 268.3,733.7 300.0,725.0 C331.7,716.3 366.7,710.5 400.0,710.0 C433.3,709.5 458.3,713.7 500.0,722.0 C541.7,730.3 600.0,746.2 650.0,760.0 C700.0,773.8 758.3,795.3 800.0,805.0 C841.7,814.7 866.7,818.8 900.0,818.0 C933.3,817.2 966.7,809.7 1000.0,800.0 C1033.3,790.3 1070.0,773.3 1100.0,760.0 C1130.0,746.7 1151.7,730.8 1180.0,720.0 C1208.3,709.2 1236.7,699.2 1270.0,695.0 C1303.3,690.8 1341.7,690.0 1380.0,695.0 C1418.3,700.0 1455.0,711.7 1500.0,725.0 C1545.0,738.3 1608.3,762.5 1650.0,775.0 C1691.7,787.5 1720.3,794.5 1750.0,800.0 C1779.7,805.5 1815.0,806.7 1828.0,808.0" fill="none" stroke="#999999" stroke-width="34" stroke-linecap="butt" stroke-linejoin="round" opacity="0.52"/>
<path d="M343,625 V729" fill="none" stroke="#999999" stroke-width="36" stroke-linecap="butt" stroke-linejoin="round" opacity="0.52"/>
<path d="M456,625 V729" fill="none" stroke="#999999" stroke-width="36" stroke-linecap="butt" stroke-linejoin="round" opacity="0.52"/>
<path d="M587,650 V759" fill="none" stroke="#999999" stroke-width="36" stroke-linecap="butt" stroke-linejoin="round" opacity="0.52"/>
<path d="M742,678 V804" fill="none" stroke="#999999" stroke-width="36" stroke-linecap="butt" stroke-linejoin="round" opacity="0.52"/>
<path d="M830,698 V824" fill="none" stroke="#999999" stroke-width="36" stroke-linecap="butt" stroke-linejoin="round" opacity="0.52"/>
<path d="M920,725 V832" fill="none" stroke="#999999" stroke-width="36" stroke-linecap="butt" stroke-linejoin="round" opacity="0.52"/>
<path d="M1050,688 V794" fill="none" stroke="#999999" stroke-width="36" stroke-linecap="butt" stroke-linejoin="round" opacity="0.52"/>
<path d="M1273,612 V709" fill="none" stroke="#999999" stroke-width="36" stroke-linecap="butt" stroke-linejoin="round" opacity="0.52"/>
<path d="M1381,612 V709" fill="none" stroke="#999999" stroke-width="36" stroke-linecap="butt" stroke-linejoin="round" opacity="0.52"/>
<path d="M1514,650 V744" fill="none" stroke="#999999" stroke-width="36" stroke-linecap="butt" stroke-linejoin="round" opacity="0.52"/>
<path d="M1668,678 V794" fill="none" stroke="#999999" stroke-width="36" stroke-linecap="butt" stroke-linejoin="round" opacity="0.52"/>
<path d="M1759,698 V814" fill="none" stroke="#999999" stroke-width="36" stroke-linecap="butt" stroke-linejoin="round" opacity="0.52"/>
<path d="M990,1000 L1640,973" fill="none" stroke="#C9C9C9" stroke-width="14" stroke-linecap="butt" stroke-linejoin="round"/>
<path d="M1665,972 L1592,928 L1610,974 L1598,1022 Z" fill="#C9C9C9"/>
</g>
<text x="2.80" y="16.90" style="font-weight:bold;font-family:'Liberation Sans',sans-serif;font-size:28.5px;">a</text>
<text x="235.50" y="50.20" text-anchor="middle">45 tissues</text>
<text x="543.50" y="50.00" text-anchor="middle">160 cell types</text>
<text x="394.50" y="301.00" text-anchor="middle">93 cell lines</text>
<path d="M1186.2,114.1 H684.1 V356.7 H1186.2" fill="none" stroke="#000" stroke-width="2" stroke-linejoin="miter"/>
<path d="M1186.2,114.1 L1354.3,235.4 L1186.2,356.7" fill="none" stroke="#000" stroke-width="2" stroke-linejoin="miter"/>
<text x="947.30" y="208.90" text-anchor="middle">Strand-specific RNA sequencing</text>
<text x="947.30" y="241.40" text-anchor="middle">polyA + total RNA + small RNA</text>
<text x="947.30" y="273.20" text-anchor="middle">125 × 10<tspan dy="-11.5" style="font-size:19px">9</tspan><tspan dy="11.5"> reads</tspan></text>
<text x="2.80" y="517.60" style="font-weight:bold;font-family:'Liberation Sans',sans-serif;font-size:31px;">b</text>
<text x="99.00" y="532.80">RNA Atlas primary transcriptome</text>
<circle cx="221.00" cy="601.40" r="26.60" fill="#0072B2" stroke="#000" stroke-width="2.0"/>
<path d="M221.00,601.40 L247.60,601.63 A26.60,26.60 0 0 1 247.55,603.02 Z" fill="#000" stroke="#000" stroke-width="2.0" stroke-linejoin="round"/>
<circle cx="292.00" cy="601.40" r="26.60" fill="#fff" stroke="#000" stroke-width="2.0"/>
<path d="M292.00,601.40 L292.00,574.80 A26.60,26.60 0 0 1 318.60,601.40 Z" fill="#0072B2" stroke="#000" stroke-width="2.0" stroke-linejoin="round"/>
<circle cx="367.50" cy="601.40" r="26.60" fill="#fff" stroke="#000" stroke-width="2.0"/>
<path d="M367.50,601.40 L352.24,623.19 A26.60,26.60 0 1 1 394.10,601.40 Z" fill="#0072B2" stroke="#000" stroke-width="2.0" stroke-linejoin="round"/>
<line x1="154.00" y1="690.30" x2="163.50" y2="690.30" stroke="#555" stroke-width="1.2"/>
<text x="139.60" y="698.80" text-anchor="end">30,000</text>
<line x1="154.00" y1="804.20" x2="163.50" y2="804.20" stroke="#555" stroke-width="1.2"/>
<text x="139.60" y="813.90" text-anchor="end">20,000</text>
<line x1="154.00" y1="918.90" x2="163.50" y2="918.90" stroke="#555" stroke-width="1.2"/>
<text x="139.60" y="928.60" text-anchor="end">10,000</text>
<line x1="154.00" y1="1033.60" x2="163.50" y2="1033.60" stroke="#555" stroke-width="1.2"/>
<text x="139.60" y="1043.30" text-anchor="end">0</text>
<line x1="163.50" y1="689.70" x2="163.50" y2="1034.20" stroke="#000" stroke-width="1.2"/>
<rect x="199.85" y="801.40" width="42.40" height="3.20" fill="#fff"/>
<rect x="199.85" y="804.60" width="42.40" height="229.00" fill="#0072B2"/>
<line x1="199.85" y1="804.60" x2="242.25" y2="804.60" stroke="#000" stroke-width="1.7"/>
<rect x="199.85" y="801.40" width="42.40" height="232.20" fill="none" stroke="#000" stroke-width="1.7"/>
<rect x="271.25" y="692.70" width="42.00" height="256.30" fill="#fff"/>
<rect x="271.25" y="949.00" width="42.00" height="84.60" fill="#0072B2"/>
<line x1="271.25" y1="949.00" x2="313.25" y2="949.00" stroke="#000" stroke-width="1.7"/>
<rect x="271.25" y="692.70" width="42.00" height="340.90" fill="none" stroke="#000" stroke-width="1.7"/>
<rect x="342.25" y="936.70" width="42.00" height="34.20" fill="#fff"/>
<rect x="342.25" y="970.90" width="42.00" height="62.70" fill="#0072B2"/>
<line x1="342.25" y1="970.90" x2="384.25" y2="970.90" stroke="#000" stroke-width="1.7"/>
<rect x="342.25" y="936.70" width="42.00" height="96.90" fill="none" stroke="#000" stroke-width="1.7"/>
<rect x="343.95" y="728.40" width="22.50" height="22.20" fill="#fff" stroke="#000" stroke-width="1.7"/>
<rect x="343.95" y="761.70" width="22.50" height="22.70" fill="#0072B2" stroke="#000" stroke-width="1.7"/>
<text x="385.70" y="749.00">Newly assembled</text>
<text x="384.00" y="782.60">Ensembl 86</text>
<text transform="translate(26.80,862.00) rotate(-90)" text-anchor="middle">Genes</text>
<text transform="translate(233.00,1059.50) rotate(-45)" text-anchor="end">PCG</text>
<text transform="translate(303.50,1058.50) rotate(-45)" text-anchor="end">lincRNA</text>
<text transform="translate(381.00,1059.50) rotate(-45)" text-anchor="end">asRNA</text>
<text x="810.00" y="517.40" style="font-weight:bold;font-family:'Liberation Sans',sans-serif;font-size:28.5px;">c</text>
<text x="895.90" y="532.80">Independent evidence for transcription</text>
<rect x="1001.65" y="562.50" width="22.90" height="23.10" fill="#fff" stroke="#000" stroke-width="1.7"/>
<text x="1037.90" y="583.20">None</text>
<rect x="1001.65" y="596.70" width="22.90" height="23.00" fill="#E69F00" stroke="#000" stroke-width="1.7"/>
<text x="1037.90" y="618.10">Both</text>
<rect x="1153.65" y="566.10" width="22.50" height="22.60" fill="#0072B2" stroke="#000" stroke-width="1.7"/>
<text x="1191.90" y="587.50">RNA</text>
<rect x="1153.65" y="600.20" width="22.50" height="23.10" fill="#009E73" stroke="#000" stroke-width="1.7"/>
<text x="1191.90" y="622.10">DNA</text>
<text x="930.00" y="664.50">Ensembl 86</text>
<text x="1133.60" y="664.50">Newly assembled</text>
<rect x="935.05" y="693.10" width="41.50" height="26.60" fill="#fff"/>
<rect x="935.05" y="719.70" width="41.50" height="249.60" fill="#E69F00"/>
<rect x="935.05" y="969.30" width="41.50" height="9.90" fill="#0072B2"/>
<rect x="935.05" y="979.20" width="41.50" height="44.50" fill="#009E73"/>
<line x1="935.05" y1="719.70" x2="976.55" y2="719.70" stroke="#000" stroke-width="1.7"/>
<line x1="935.05" y1="969.30" x2="976.55" y2="969.30" stroke="#000" stroke-width="1.7"/>
<line x1="935.05" y1="979.20" x2="976.55" y2="979.20" stroke="#000" stroke-width="1.7"/>
<rect x="935.05" y="693.10" width="41.50" height="330.60" fill="none" stroke="#000" stroke-width="1.7"/>
<rect x="993.75" y="693.10" width="42.00" height="101.60" fill="#fff"/>
<rect x="993.75" y="794.70" width="42.00" height="75.00" fill="#E69F00"/>
<rect x="993.75" y="869.70" width="42.00" height="12.30" fill="#0072B2"/>
<rect x="993.75" y="882.00" width="42.00" height="141.70" fill="#009E73"/>
<line x1="993.75" y1="794.70" x2="1035.75" y2="794.70" stroke="#000" stroke-width="1.7"/>
<line x1="993.75" y1="869.70" x2="1035.75" y2="869.70" stroke="#000" stroke-width="1.7"/>
<line x1="993.75" y1="882.00" x2="1035.75" y2="882.00" stroke="#000" stroke-width="1.7"/>
<rect x="993.75" y="693.10" width="42.00" height="330.60" fill="none" stroke="#000" stroke-width="1.7"/>
<rect x="1048.95" y="693.10" width="41.50" height="41.70" fill="#fff"/>
<rect x="1048.95" y="734.80" width="41.50" height="94.80" fill="#E69F00"/>
<rect x="1048.95" y="829.60" width="41.50" height="5.20" fill="#0072B2"/>
<rect x="1048.95" y="834.80" width="41.50" height="188.90" fill="#009E73"/>
<line x1="1048.95" y1="734.80" x2="1090.45" y2="734.80" stroke="#000" stroke-width="1.7"/>
<line x1="1048.95" y1="829.60" x2="1090.45" y2="829.60" stroke="#000" stroke-width="1.7"/>
<line x1="1048.95" y1="834.80" x2="1090.45" y2="834.80" stroke="#000" stroke-width="1.7"/>
<rect x="1048.95" y="693.10" width="41.50" height="330.60" fill="none" stroke="#000" stroke-width="1.7"/>
<rect x="1160.85" y="693.10" width="41.50" height="76.60" fill="#fff"/>
<rect x="1160.85" y="769.70" width="41.50" height="65.50" fill="#E69F00"/>
<rect x="1160.85" y="835.20" width="41.50" height="3.10" fill="#0072B2"/>
<rect x="1160.85" y="838.30" width="41.50" height="185.40" fill="#009E73"/>
<line x1="1160.85" y1="769.70" x2="1202.35" y2="769.70" stroke="#000" stroke-width="1.7"/>
<line x1="1160.85" y1="835.20" x2="1202.35" y2="835.20" stroke="#000" stroke-width="1.7"/>
<line x1="1160.85" y1="838.30" x2="1202.35" y2="838.30" stroke="#000" stroke-width="1.7"/>
<rect x="1160.85" y="693.10" width="41.50" height="330.60" fill="none" stroke="#000" stroke-width="1.7"/>
<rect x="1215.55" y="693.10" width="42.00" height="137.70" fill="#fff"/>
<rect x="1215.55" y="830.80" width="42.00" height="31.70" fill="#E69F00"/>
<rect x="1215.55" y="862.50" width="42.00" height="4.40" fill="#0072B2"/>
<rect x="1215.55" y="866.90" width="42.00" height="156.80" fill="#009E73"/>
<line x1="1215.55" y1="830.80" x2="1257.55" y2="830.80" stroke="#000" stroke-width="1.7"/>
<line x1="1215.55" y1="862.50" x2="1257.55" y2="862.50" stroke="#000" stroke-width="1.7"/>
<line x1="1215.55" y1="866.90" x2="1257.55" y2="866.90" stroke="#000" stroke-width="1.7"/>
<rect x="1215.55" y="693.10" width="42.00" height="330.60" fill="none" stroke="#000" stroke-width="1.7"/>
<rect x="1271.15" y="693.10" width="41.60" height="50.40" fill="#fff"/>
<rect x="1271.15" y="743.50" width="41.60" height="75.40" fill="#E69F00"/>
<rect x="1271.15" y="818.90" width="41.60" height="4.00" fill="#0072B2"/>
<rect x="1271.15" y="822.90" width="41.60" height="200.80" fill="#009E73"/>
<line x1="1271.15" y1="743.50" x2="1312.75" y2="743.50" stroke="#000" stroke-width="1.7"/>
<line x1="1271.15" y1="818.90" x2="1312.75" y2="818.90" stroke="#000" stroke-width="1.7"/>
<line x1="1271.15" y1="822.90" x2="1312.75" y2="822.90" stroke="#000" stroke-width="1.7"/>
<rect x="1271.15" y="693.10" width="41.60" height="330.60" fill="none" stroke="#000" stroke-width="1.7"/>
<text x="919.40" y="709.90" text-anchor="end">1.00</text>
<text x="919.40" y="787.30" text-anchor="end">0.75</text>
<text x="919.40" y="865.10" text-anchor="end">0.50</text>
<text x="919.40" y="942.50" text-anchor="end">0.25</text>
<text x="919.40" y="1020.30" text-anchor="end">0.00</text>
<text transform="translate(834.90,857.80) rotate(-90)" text-anchor="middle">Fraction of genes</text>
<text transform="translate(973.90,1048.30) rotate(-45)" text-anchor="end">PCG</text>
<text transform="translate(1030.80,1048.30) rotate(-45)" text-anchor="end">lincRNA</text>
<text transform="translate(1082.50,1048.30) rotate(-45)" text-anchor="end">asRNA</text>
<text transform="translate(1198.30,1048.30) rotate(-45)" text-anchor="end">PCG</text>
<text transform="translate(1257.00,1048.30) rotate(-45)" text-anchor="end">lincRNA</text>
<text transform="translate(1307.60,1048.30) rotate(-45)" text-anchor="end">asRNA</text>
<text x="1600.80" y="517.40" style="font-weight:bold;font-family:'Liberation Sans',sans-serif;font-size:31px;">d</text>
<text x="1744.50" y="532.80">RNA Atlas transcriptome</text>
<circle cx="1819.50" cy="601.40" r="26.60" fill="#009E73" stroke="#000" stroke-width="2.0"/>
<path d="M1819.50,601.40 L1819.04,574.80 A26.60,26.60 0 0 1 1819.96,574.80 Z" fill="#000" stroke="#000" stroke-width="2.0" stroke-linejoin="round"/>
<path d="M1890.60,601.40 L1890.60,574.80 A26.60,26.60 0 0 1 1912.39,616.66 Z" fill="#009E73" stroke="#000" stroke-width="2.0" stroke-linejoin="round"/>
<path d="M1890.60,601.40 L1912.39,616.66 A26.60,26.60 0 0 1 1864.26,605.10 Z" fill="#0072B2" stroke="#000" stroke-width="2.0" stroke-linejoin="round"/>
<path d="M1890.60,601.40 L1864.26,605.10 A26.60,26.60 0 0 1 1890.60,574.80 Z" fill="#E69F00" stroke="#000" stroke-width="2.0" stroke-linejoin="round"/>
<path d="M1965.60,601.40 L1965.60,574.80 A26.60,26.60 0 1 1 1940.30,609.62 Z" fill="#009E73" stroke="#000" stroke-width="2.0" stroke-linejoin="round"/>
<path d="M1965.60,601.40 L1940.30,609.62 A26.60,26.60 0 0 1 1956.50,576.40 Z" fill="#0072B2" stroke="#000" stroke-width="2.0" stroke-linejoin="round"/>
<path d="M1965.60,601.40 L1956.50,576.40 A26.60,26.60 0 0 1 1965.60,574.80 Z" fill="#E69F00" stroke="#000" stroke-width="2.0" stroke-linejoin="round"/>
<line x1="1753.00" y1="690.90" x2="1762.50" y2="690.90" stroke="#666" stroke-width="1.6"/>
<text x="1737.50" y="699.10" text-anchor="end">30,000</text>
<line x1="1753.00" y1="804.80" x2="1762.50" y2="804.80" stroke="#666" stroke-width="1.6"/>
<text x="1737.50" y="814.00" text-anchor="end">20,000</text>
<line x1="1753.00" y1="919.40" x2="1762.50" y2="919.40" stroke="#666" stroke-width="1.6"/>
<text x="1737.50" y="928.60" text-anchor="end">10,000</text>
<line x1="1753.00" y1="1034.00" x2="1762.50" y2="1034.00" stroke="#666" stroke-width="1.6"/>
<text x="1737.50" y="1043.20" text-anchor="end">0</text>
<line x1="1762.50" y1="690.10" x2="1762.50" y2="1034.80" stroke="#666" stroke-width="1.6"/>
<rect x="1797.55" y="815.70" width="42.40" height="2.80" fill="#000"/>
<rect x="1797.55" y="818.50" width="42.40" height="215.10" fill="#009E73"/>
<line x1="1797.55" y1="818.50" x2="1839.95" y2="818.50" stroke="#000" stroke-width="1.7"/>
<rect x="1797.55" y="815.70" width="42.40" height="217.90" fill="none" stroke="#000" stroke-width="1.7"/>
<rect x="1868.95" y="823.30" width="42.00" height="57.50" fill="#E69F00"/>
<rect x="1868.95" y="880.80" width="42.00" height="79.80" fill="#0072B2"/>
<rect x="1868.95" y="960.60" width="42.00" height="73.00" fill="#009E73"/>
<line x1="1868.95" y1="880.80" x2="1910.95" y2="880.80" stroke="#000" stroke-width="1.7"/>
<line x1="1868.95" y1="960.60" x2="1910.95" y2="960.60" stroke="#000" stroke-width="1.7"/>
<rect x="1868.95" y="823.30" width="42.00" height="210.30" fill="none" stroke="#000" stroke-width="1.7"/>
<rect x="1940.05" y="948.70" width="42.30" height="5.90" fill="#E69F00"/>
<rect x="1940.05" y="954.60" width="42.30" height="20.20" fill="#0072B2"/>
<rect x="1940.05" y="974.80" width="42.30" height="58.80" fill="#009E73"/>
<line x1="1940.05" y1="954.60" x2="1982.35" y2="954.60" stroke="#000" stroke-width="1.7"/>
<line x1="1940.05" y1="974.80" x2="1982.35" y2="974.80" stroke="#000" stroke-width="1.7"/>
<rect x="1940.05" y="948.70" width="42.30" height="84.90" fill="none" stroke="#000" stroke-width="1.7"/>
<rect x="1831.65" y="685.60" width="22.90" height="22.60" fill="#E69F00" stroke="#000" stroke-width="1.7"/>
<text x="1874.70" y="707.00">RNA Atlas-only</text>
<rect x="1831.65" y="723.30" width="22.90" height="22.60" fill="#0072B2" stroke="#000" stroke-width="1.7"/>
<text x="1872.30" y="745.10">PreRep</text>
<rect x="1831.65" y="760.60" width="22.90" height="23.00" fill="#009E73" stroke="#000" stroke-width="1.7"/>
<text x="1873.10" y="781.60">Annotated</text>
<text transform="translate(1625.10,861.70) rotate(-90)" text-anchor="middle">Genes</text>
<text transform="translate(1830.70,1058.30) rotate(-45)" text-anchor="end">PCG</text>
<text transform="translate(1904.30,1058.70) rotate(-45)" text-anchor="end">lincRNA</text>
<text transform="translate(1977.70,1058.70) rotate(-45)" text-anchor="end">asRNA</text>
<text x="-1.20" y="1206.00" style="font-weight:bold;font-family:'Liberation Sans',sans-serif;font-size:28.5px;">e</text>
<text x="33.80" y="1241.50">Candidate circRNA host genes biotype</text>
<line x1="146.00" y1="1316.80" x2="155.50" y2="1316.80" stroke="#333" stroke-width="1.2"/>
<text x="131.50" y="1325.20" text-anchor="end">10,000</text>
<line x1="146.00" y1="1405.70" x2="155.50" y2="1405.70" stroke="#333" stroke-width="1.2"/>
<text x="131.50" y="1414.10" text-anchor="end">1,000</text>
<line x1="146.00" y1="1494.60" x2="155.50" y2="1494.60" stroke="#333" stroke-width="1.2"/>
<text x="131.50" y="1503.00" text-anchor="end">100</text>
<line x1="146.00" y1="1583.50" x2="155.50" y2="1583.50" stroke="#333" stroke-width="1.2"/>
<text x="131.50" y="1591.90" text-anchor="end">10</text>
<line x1="146.00" y1="1672.10" x2="155.50" y2="1672.10" stroke="#333" stroke-width="1.2"/>
<text x="131.50" y="1680.50" text-anchor="end">1</text>
<line x1="155.50" y1="1303.00" x2="155.50" y2="1672.70" stroke="#000" stroke-width="1.2"/>
<rect x="180.55" y="1328.30" width="42.40" height="343.80" fill="#0072B2" stroke="#000" stroke-width="1.7"/>
<rect x="250.95" y="1467.10" width="42.40" height="205.00" fill="#0072B2" stroke="#000" stroke-width="1.7"/>
<rect x="321.35" y="1494.60" width="42.40" height="177.50" fill="#0072B2" stroke="#000" stroke-width="1.7"/>
<text transform="translate(22.50,1487.30) rotate(-90)" text-anchor="middle">Number of host genes</text>
<text transform="translate(215.30,1697.00) rotate(-45)" text-anchor="end">PCG</text>
<text transform="translate(290.00,1697.00) rotate(-45)" text-anchor="end">lincRNA</text>
<text transform="translate(360.00,1697.00) rotate(-45)" text-anchor="end">asRNA</text>
<text x="570.90" y="1206.00" style="font-weight:bold;font-family:'Liberation Sans',sans-serif;font-size:31px;">f</text>
<text x="679.00" y="1241.50">Candidate circRNA per host gene</text>
<line x1="705.00" y1="1310.50" x2="714.50" y2="1310.50" stroke="#333" stroke-width="1.3"/>
<text x="691.00" y="1319.20" text-anchor="end">2,500</text>
<line x1="705.00" y1="1383.20" x2="714.50" y2="1383.20" stroke="#333" stroke-width="1.3"/>
<text x="691.00" y="1391.90" text-anchor="end">2,000</text>
<line x1="705.00" y1="1455.40" x2="714.50" y2="1455.40" stroke="#333" stroke-width="1.3"/>
<text x="691.00" y="1464.10" text-anchor="end">1,500</text>
<line x1="705.00" y1="1527.90" x2="714.50" y2="1527.90" stroke="#333" stroke-width="1.3"/>
<text x="691.00" y="1536.60" text-anchor="end">1,000</text>
<line x1="705.00" y1="1600.10" x2="714.50" y2="1600.10" stroke="#333" stroke-width="1.3"/>
<text x="691.00" y="1608.80" text-anchor="end">500</text>
<line x1="705.00" y1="1672.60" x2="714.50" y2="1672.60" stroke="#333" stroke-width="1.3"/>
<text x="691.00" y="1681.30" text-anchor="end">0</text>
<line x1="714.50" y1="1309.85" x2="714.50" y2="1673.25" stroke="#333" stroke-width="1.3"/>
<rect x="732.45" y="1312.30" width="9.63" height="360.10" fill="#0072B2" stroke="#000" stroke-width="4.1"/>
<rect x="742.08" y="1488.03" width="9.63" height="184.37" fill="#0072B2" stroke="#000" stroke-width="4.1"/>
<rect x="751.71" y="1552.85" width="9.63" height="119.55" fill="#0072B2" stroke="#000" stroke-width="4.1"/>
<rect x="761.34" y="1586.84" width="9.63" height="85.56" fill="#0072B2" stroke="#000" stroke-width="4.1"/>
<rect x="770.97" y="1610.75" width="9.63" height="61.65" fill="#0072B2" stroke="#000" stroke-width="4.1"/>
<rect x="780.60" y="1622.56" width="9.63" height="49.84" fill="#0072B2" stroke="#000" stroke-width="4.1"/>
<rect x="790.23" y="1630.48" width="9.63" height="41.92" fill="#0072B2" stroke="#000" stroke-width="4.1"/>
<rect x="799.86" y="1641.14" width="9.63" height="31.26" fill="#0072B2" stroke="#000" stroke-width="4.1"/>
<rect x="809.49" y="1645.32" width="9.63" height="27.08" fill="#0072B2" stroke="#000" stroke-width="4.1"/>
<rect x="819.12" y="1650.22" width="9.63" height="22.18" fill="#0072B2" stroke="#000" stroke-width="4.1"/>
<rect x="828.75" y="1652.67" width="9.63" height="19.73" fill="#0072B2" stroke="#000" stroke-width="4.1"/>
<rect x="838.38" y="1658.57" width="9.63" height="13.83" fill="#0072B2" stroke="#000" stroke-width="4.1"/>
<rect x="848.01" y="1659.29" width="9.63" height="13.11" fill="#0072B2" stroke="#000" stroke-width="4.1"/>
<rect x="857.64" y="1660.59" width="9.63" height="11.81" fill="#0072B2" stroke="#000" stroke-width="4.1"/>
<rect x="867.27" y="1663.04" width="9.63" height="9.36" fill="#0072B2" stroke="#000" stroke-width="4.1"/>
<rect x="876.90" y="1665.20" width="9.63" height="7.20" fill="#0072B2" stroke="#000" stroke-width="4.1"/>
<rect x="886.53" y="1665.20" width="9.63" height="7.20" fill="#0072B2" stroke="#000" stroke-width="4.1"/>
<rect x="896.16" y="1665.20" width="9.63" height="7.20" fill="#0072B2" stroke="#000" stroke-width="4.1"/>
<rect x="905.79" y="1666.21" width="9.63" height="6.19" fill="#0072B2" stroke="#000" stroke-width="4.1"/>
<rect x="915.42" y="1666.93" width="9.63" height="5.47" fill="#0072B2" stroke="#000" stroke-width="4.1"/>
<rect x="925.05" y="1666.64" width="9.63" height="5.76" fill="#0072B2" stroke="#000" stroke-width="4.1"/>
<rect x="934.68" y="1667.21" width="9.63" height="5.19" fill="#0072B2" stroke="#000" stroke-width="4.1"/>
<rect x="944.31" y="1668.22" width="9.63" height="4.18" fill="#0072B2" stroke="#000" stroke-width="4.1"/>
<rect x="953.94" y="1668.65" width="9.63" height="3.75" fill="#0072B2" stroke="#000" stroke-width="4.1"/>
<rect x="963.57" y="1669.23" width="9.63" height="3.17" fill="#0072B2" stroke="#000" stroke-width="4.1"/>
<rect x="973.20" y="1670.38" width="9.63" height="2.02" fill="#0072B2" stroke="#000" stroke-width="4.1"/>
<rect x="982.83" y="1670.38" width="9.63" height="2.02" fill="#0072B2" stroke="#000" stroke-width="4.1"/>
<rect x="992.46" y="1670.38" width="9.63" height="2.02" fill="#0072B2" stroke="#000" stroke-width="4.1"/>
<rect x="1002.09" y="1669.95" width="9.63" height="2.45" fill="#0072B2" stroke="#000" stroke-width="4.1"/>
<rect x="1011.72" y="1670.38" width="9.63" height="2.02" fill="#0072B2" stroke="#000" stroke-width="4.1"/>
<rect x="1021.35" y="1670.60" width="9.63" height="1.80" fill="#0072B2" stroke="#000" stroke-width="4.1"/>
<rect x="1030.98" y="1670.38" width="9.63" height="2.02" fill="#0072B2" stroke="#000" stroke-width="4.1"/>
<text x="731.30" y="1707.70" text-anchor="middle">1</text>
<text x="823.60" y="1707.70" text-anchor="middle">10</text>
<text x="919.50" y="1707.70" text-anchor="middle">20</text>
<text x="1016.40" y="1707.70" text-anchor="middle">30</text>
<text x="895.00" y="1755.00" text-anchor="middle">Number of circRNAs</text>
<text x="862.50" y="1479.80">Median = 3.000</text>
<text x="862.50" y="1518.00">Mean = 4.856</text>
<text transform="translate(594.60,1490.70) rotate(-90)" text-anchor="middle">Number of host genes</text>
<text transform="translate(1163.00,1206.00) scale(1.15,1)" style="font-weight:bold;font-family:'Liberation Serif',serif;font-size:32px">g</text>
<text x="1209.60" y="1245.00">Genomic location of pre-miRNA</text>
<line x1="1299.70" y1="1339.70" x2="1309.20" y2="1339.70" stroke="#666" stroke-width="1.6"/>
<text x="1284.40" y="1348.60" text-anchor="end">2,000</text>
<line x1="1299.70" y1="1417.80" x2="1309.20" y2="1417.80" stroke="#666" stroke-width="1.6"/>
<text x="1284.40" y="1426.70" text-anchor="end">1,500</text>
<line x1="1299.70" y1="1495.90" x2="1309.20" y2="1495.90" stroke="#666" stroke-width="1.6"/>
<text x="1284.40" y="1504.80" text-anchor="end">1,000</text>
<line x1="1299.70" y1="1574.00" x2="1309.20" y2="1574.00" stroke="#666" stroke-width="1.6"/>
<text x="1284.40" y="1582.90" text-anchor="end">500</text>
<line x1="1299.70" y1="1652.00" x2="1309.20" y2="1652.00" stroke="#666" stroke-width="1.6"/>
<text x="1284.40" y="1660.90" text-anchor="end">0</text>
<line x1="1309.20" y1="1287.00" x2="1309.20" y2="1652.80" stroke="#666" stroke-width="1.6"/>
<rect x="1332.45" y="1300.70" width="42.30" height="351.30" fill="#0072B2" stroke="#000" stroke-width="2.0"/>
<rect x="1402.85" y="1475.30" width="42.30" height="176.70" fill="#0072B2" stroke="#000" stroke-width="2.0"/>
<rect x="1472.85" y="1538.40" width="42.40" height="113.60" fill="#0072B2" stroke="#000" stroke-width="2.0"/>
<text transform="translate(1186.50,1470.40) rotate(-90)" text-anchor="middle">Pre-miRNAs</text>
<text transform="translate(1360.00,1676.00) rotate(-45)" text-anchor="end">Intronic</text>
<text transform="translate(1435.00,1676.00) rotate(-45)" text-anchor="end">Intergenic</text>
<text transform="translate(1507.00,1676.00) rotate(-45)" text-anchor="end">Exonic</text>
<text x="1668.50" y="1206.30" style="font-weight:bold;font-family:'Liberation Sans',sans-serif;font-size:31px;">h</text>
<text x="1747.30" y="1244.70">Expressed miRNA arms</text>
<line x1="1787.50" y1="1310.50" x2="1797.50" y2="1310.50" stroke="#333" stroke-width="1.3"/>
<text x="1773.40" y="1319.20" text-anchor="end">1.00</text>
<line x1="1787.50" y1="1396.20" x2="1797.50" y2="1396.20" stroke="#333" stroke-width="1.3"/>
<text x="1773.40" y="1404.90" text-anchor="end">0.75</text>
<line x1="1787.50" y1="1481.60" x2="1797.50" y2="1481.60" stroke="#333" stroke-width="1.3"/>
<text x="1773.40" y="1490.30" text-anchor="end">0.50</text>
<line x1="1787.50" y1="1567.40" x2="1797.50" y2="1567.40" stroke="#333" stroke-width="1.3"/>
<text x="1773.40" y="1576.10" text-anchor="end">0.25</text>
<line x1="1787.50" y1="1653.10" x2="1797.50" y2="1653.10" stroke="#333" stroke-width="1.3"/>
<text x="1773.40" y="1661.80" text-anchor="end">0.00</text>
<line x1="1797.50" y1="1309.85" x2="1797.50" y2="1653.75" stroke="#333" stroke-width="1.3"/>
<rect x="1824.95" y="1310.50" width="41.40" height="199.70" fill="#fff"/>
<rect x="1824.95" y="1510.20" width="41.40" height="142.90" fill="#0072B2"/>
<line x1="1824.95" y1="1510.20" x2="1866.35" y2="1510.20" stroke="#000" stroke-width="1.7"/>
<rect x="1824.95" y="1310.50" width="41.40" height="342.60" fill="none" stroke="#000" stroke-width="1.7"/>
<rect x="1891.55" y="1310.50" width="41.70" height="242.90" fill="#fff"/>
<rect x="1891.55" y="1553.40" width="41.70" height="99.70" fill="#0072B2"/>
<line x1="1891.55" y1="1553.40" x2="1933.25" y2="1553.40" stroke="#000" stroke-width="1.7"/>
<rect x="1891.55" y="1310.50" width="41.70" height="342.60" fill="none" stroke="#000" stroke-width="1.7"/>
<rect x="1960.55" y="1375.00" width="22.90" height="22.60" fill="#fff" stroke="#000" stroke-width="1.7"/>
<text x="2000.00" y="1394.90">5p or 3p</text>
<rect x="1960.55" y="1409.80" width="22.90" height="22.70" fill="#0072B2" stroke="#000" stroke-width="1.7"/>
<text x="2000.00" y="1433.80">5p and 3p</text>
<text transform="translate(1693.10,1475.00) rotate(-90)" text-anchor="middle">Fraction of pre-miRNAs</text>
<text transform="translate(1851.70,1680.70) rotate(-45)" text-anchor="end">miRBase</text>
<text transform="translate(1928.20,1683.30) rotate(-45)" text-anchor="end">miRDeep2</text>
<text transform="translate(1952.00,1704.30) rotate(-45)" text-anchor="end">Predicted</text>
</svg>
</body>
</html>
